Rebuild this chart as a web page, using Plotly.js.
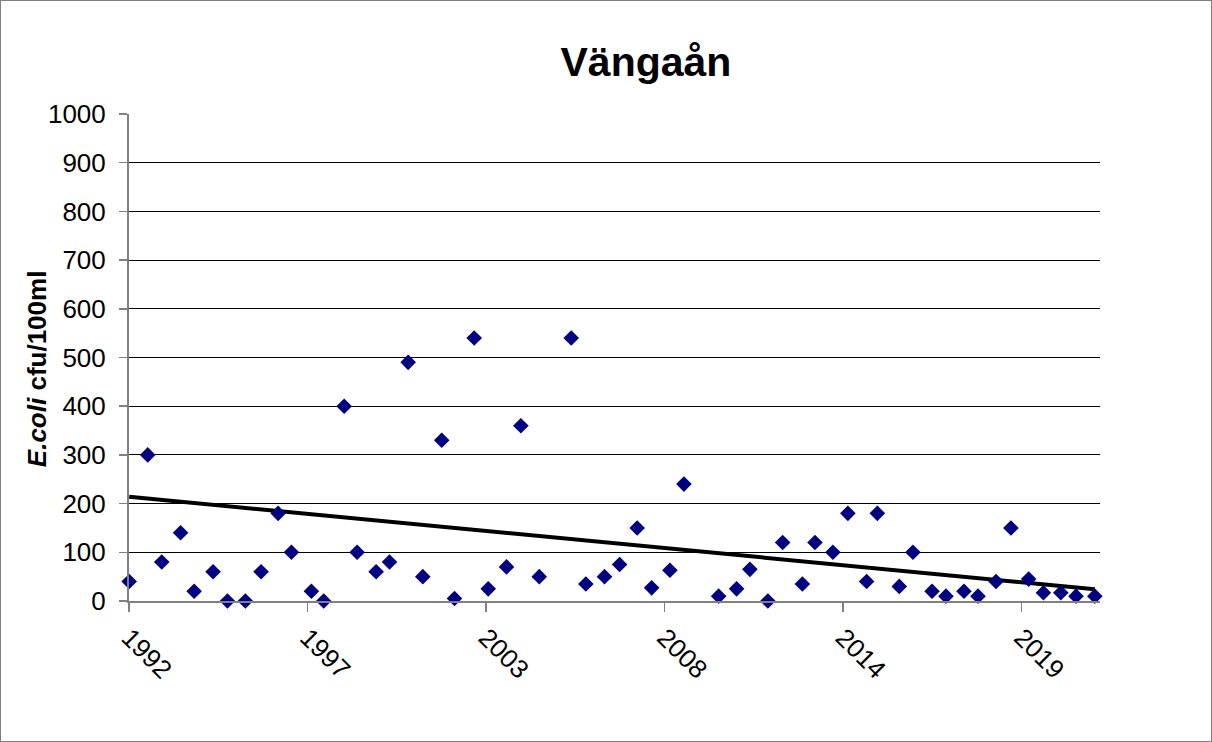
<!DOCTYPE html>
<html>
<head>
<meta charset="utf-8">
<script src="https://cdn.plot.ly/plotly-3.0.1.min.js"></script>
<style>
  html, body { margin: 0; padding: 0; background: #fff; }
  #frame { width: 1210px; height: 740px; border: 1px solid #7f7f7f; }
  #chart { width: 1210px; height: 740px; }
</style>
</head>
<body>
<div id="frame"><div id="chart"></div></div>
<script>
// Sampling dates
const dates = [
  '1992-04-06','1992-10-31','1993-04-06','1993-11-03','1994-04-04','1994-11-02',
  '1995-04-12','1995-10-30','1996-04-23','1996-10-31','1997-03-29','1997-11-08',
  '1998-03-26','1998-11-10','1999-04-04','1999-11-03','2000-04-01','2000-10-27',
  '2001-04-09','2001-11-07','2002-03-30','2002-11-06','2003-04-12','2003-11-03',
  '2004-04-12','2004-11-04','2005-10-28','2006-04-10','2006-11-05','2007-04-23',
  '2007-11-06','2008-04-16','2008-11-07','2009-04-13','2010-05-07','2010-11-24',
  '2011-04-22','2011-11-10','2012-04-23','2012-11-30','2013-04-20','2013-11-07',
  '2014-04-24','2014-11-20','2015-03-20','2015-11-21','2016-04-22','2016-11-22',
  '2017-04-27','2017-11-15','2018-04-21','2018-11-09','2019-04-25','2019-11-10',
  '2020-04-23','2020-11-04','2021-04-23','2021-11-20'
];
// E.coli cfu/100ml
const ecoli = [
  40, 300, 80, 140, 20, 60,
  0, 0, 60, 180, 100, 20,
  0, 400, 100, 60, 80, 490,
  50, 330, 5, 540, 25, 70,
  360, 50, 540, 35, 50, 75,
  150, 27, 63, 240, 10, 25,
  65, 0, 120, 35, 120, 100,
  180, 40, 180, 30, 100, 20,
  10, 20, 10, 40, 150, 45,
  17, 17, 10, 10
];
// Linear trend line as drawn in the picture (start / end)
const trendDates = ['1992-04-06', '2021-11-20'];
const trendValues = [214, 24];

const chartTitle = 'Vängaån';
const yTitle = '<i>E.coli</i> cfu/100ml';
const xRange = ['1992-04-04', '2022-01-17'];
const xTick0 = '1992-04-06';
const xTickDays = 2000;

const font = 'Liberation Sans, Arial, sans-serif';

const traces = [
  {
    x: trendDates, y: trendValues, type: 'scatter', mode: 'lines',
    line: { color: '#000000', width: 4 }, hoverinfo: 'skip', cliponaxis: false
  },
  {
    x: dates, y: ecoli, type: 'scatter', mode: 'markers',
    marker: { symbol: 'diamond', color: '#000080', size: 12, line: { width: 0 } },
    cliponaxis: false
  }
];

const layout = {
  width: 1210, height: 740,
  margin: { l: 128, r: 111, t: 113, b: 140 },
  paper_bgcolor: '#ffffff', plot_bgcolor: '#ffffff',
  showlegend: false,
  font: { family: font, color: '#000000' },
  title: {
    text: '<b>' + chartTitle + '</b>',
    font: { family: font, size: 41, color: '#000000' },
    x: 0.533, xanchor: 'center', y: 0.918, yanchor: 'middle', yref: 'container'
  },
  xaxis: {
    type: 'date', range: xRange,
    tickmode: 'linear', tick0: xTick0, dtick: xTickDays * 86400000,
    tickformat: '%Y', tickangle: 45,
    tickfont: { family: font, size: 26, color: '#000000' },
    ticks: 'outside', ticklen: 9, tickcolor: '#808080', tickwidth: 1.5,
    showline: true, linecolor: '#808080', linewidth: 2,
    showgrid: false, zeroline: false
  },
  yaxis: {
    range: [0, 1000], tickmode: 'linear', tick0: 0, dtick: 100,
    tickfont: { family: font, size: 26, color: '#000000' },
    ticks: 'outside', ticklen: 8, tickcolor: '#808080', tickwidth: 1.5,
    ticklabelstandoff: 8,
    showline: true, linecolor: '#808080', linewidth: 2,
    showgrid: true, gridcolor: '#000000', gridwidth: 1,
    zeroline: false
  },
  annotations: [{
    text: '<b>' + yTitle + '</b>', textangle: -90,
    xref: 'paper', yref: 'paper', x: -0.0948, y: 0.478,
    xanchor: 'center', yanchor: 'middle', showarrow: false,
    font: { family: font, size: 26, color: '#000000' }
  }]
};

Plotly.newPlot('chart', traces, layout, { displayModeBar: false, staticPlot: true });
</script>
</body>
</html>
